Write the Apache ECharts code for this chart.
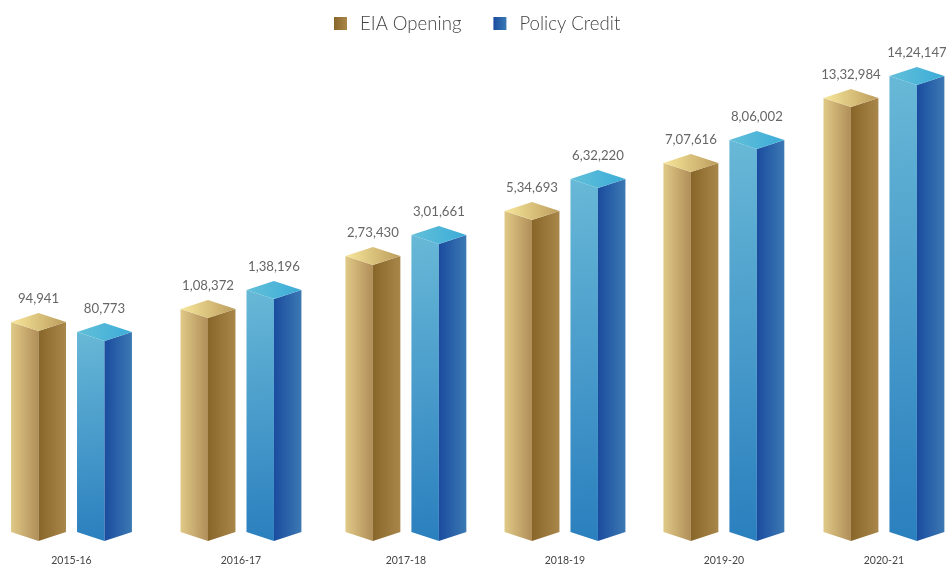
<!DOCTYPE html>
<html><head><meta charset="utf-8">
<style>html,body{margin:0;padding:0;background:#fff}#c{width:946px;height:566px}</style>
<script src="https://cdn.jsdelivr.net/npm/echarts@6/dist/echarts.min.js"></script>
</head><body><div id="c"></div>
<script>
const categories = ['2015-16','2016-17','2017-18','2018-19','2019-20','2020-21'];
// Printed figures
const eiaOpening   = ['94,941','1,08,372','2,73,430','5,34,693','7,07,616','13,32,984'];
const policyCredit = ['80,773','1,38,196','3,01,661','6,32,220','8,06,002','14,24,147'];
// The source infographic's bars are not proportional to the printed figures;
// these are the bar heights, on the hidden y axis.
const eiaHeight    = [210,223,276,321,369,434];
const policyHeight = [200,242,297,353,392,456];
// Category centres along the x axis (the source spacing is slightly uneven).
const slots = [0,1.043,2.058,3.037,4.015,5];

const SERIES_OFFSET = 0.203, HALF_WIDTH = 0.169, DEPTH = 9, LABEL_GAP = 14;
const grad = (x,y,x2,y2,a,b)=>new echarts.graphic.LinearGradient(x,y,x2,y2,[{offset:0,color:a},{offset:1,color:b}]);
const palettes = {
  gold: {left:()=>grad(0,0,1,0,'#E0C987','#B08E58'), right:()=>grad(0,0,1,0,'#886529','#A98649'), top:()=>grad(0,0,1,0,'#F7E79B','#BC9C5C')},
  blue: {left:()=>grad(0,0,1,1,'#68B8D7','#2A7FBE'), right:()=>grad(0,0,1,0,'#1A4C9F','#3C79B3'), top:()=>grad(0,0,1,0,'#62C0D9','#3CACD8')}
};
function prismSeries(name, dir, heights, texts, pal){
  return {
    name, type:'custom', clip:false,
    encode:{x:0,y:1},
    itemStyle:{color:pal.right()},
    data: heights.map((h,i)=>[slots[i],h,texts[i]]),
    renderItem(params,api){
      const cx = api.value(0)+dir*SERIES_OFFSET;
      const apexTop = api.coord([cx,api.value(1)]);
      const apexBase = api.coord([cx,0]);
      const xL = api.coord([cx-HALF_WIDTH,0])[0], xR = api.coord([cx+HALF_WIDTH,0])[0], xM = apexBase[0];
      const yT = apexTop[1], yB = apexBase[1];
      return {type:'group',children:[
        {type:'polygon',shape:{points:[[xL,yT-DEPTH],[xM,yT],[xM,yB],[xL,yB-DEPTH]]},style:{fill:pal.left()}},
        {type:'polygon',shape:{points:[[xM,yT],[xR,yT-DEPTH],[xR,yB-DEPTH],[xM,yB]]},style:{fill:pal.right()}},
        {type:'polygon',shape:{points:[[xL,yT-DEPTH],[xM,yT-2*DEPTH],[xR,yT-DEPTH],[xM,yT]]},style:{fill:pal.top()}},
        {type:'text',style:{x:xM,y:yT-2*DEPTH-LABEL_GAP,text:api.value(2),align:'center',verticalAlign:'middle',
          font:'400 13.2px Lato, "Open Sans", sans-serif',fill:'#666'}}
      ]};
    }
  };
}
const chart = echarts.init(document.getElementById('c'),null,{renderer:'canvas'});
chart.setOption({
  animation:false,
  backgroundColor:'#fff',
  legend:{
    top:14,left:334,padding:0,itemWidth:13,itemHeight:13,itemGap:32,icon:'rect',
    textStyle:{fontFamily:'Lato, "Open Sans", sans-serif',fontWeight:300,fontSize:18.6,color:'#444',padding:[0,0,0,8]},
    data:['EIA Opening','Policy Credit']
  },
  grid:{left:0,right:0,top:41,bottom:25},
  xAxis:{
    type:'value',min:-0.44,max:5.382,splitLine:{show:false},axisLine:{show:false},axisTick:{show:false},
    axisLabel:{customValues:slots,margin:14,fontSize:10.5,color:'#444',fontFamily:'Lato, "Open Sans", sans-serif',
      formatter:v=>categories[slots.indexOf(v)]||''}
  },
  yAxis:{type:'value',min:0,max:500,show:false},
  series:[
    prismSeries('EIA Opening',-1,eiaHeight,eiaOpening,palettes.gold),
    prismSeries('Policy Credit',1,policyHeight,policyCredit,palettes.blue)
  ]
});
</script></body></html>
